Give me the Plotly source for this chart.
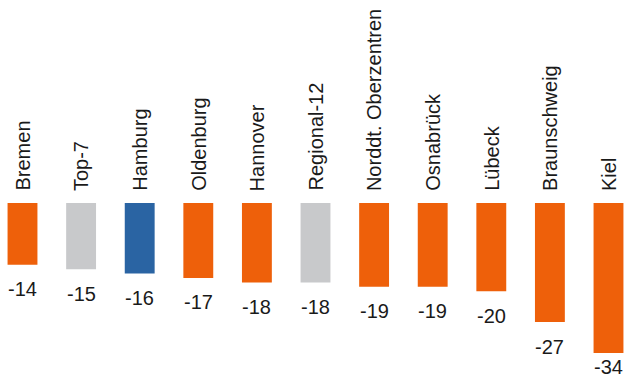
import plotly.graph_objects as go

categories = ["Bremen", "Top-7", "Hamburg", "Oldenburg", "Hannover", "Regional-12",
              "Norddt. Oberzentren", "Osnabrück", "Lübeck", "Braunschweig", "Kiel"]
values = [-14, -15, -16, -17, -18, -18, -19, -19, -20, -27, -34]
groups = ["city", "bench", "home", "city", "city", "bench", "city", "city", "city", "city", "city"]

color_map = {"city": "#EE600A", "bench": "#C8C9CB", "home": "#2A64A3"}
colors = [color_map[g] for g in groups]

W, H = 625, 378
px_per_unit = 4.41
zero_px = 203
ymax = zero_px / px_per_unit
ymin = -(H - zero_px) / px_per_unit

x = list(range(len(categories)))
fig = go.Figure(go.Bar(x=x, y=values, marker=dict(color=colors, line=dict(width=0)),
                       width=0.51, hoverinfo="skip"))

font = dict(family="Liberation Sans, Arial, sans-serif", size=20, color="#1a1a1a")
ann = []
for i, (c, v) in enumerate(zip(categories, values)):
    ann.append(dict(x=i, y=0, text=c, textangle=-90, showarrow=False, xanchor="center",
                    yanchor="bottom", yshift=10, font=font))
    yv = max(v - 24.5 / px_per_unit, ymin + 11 / px_per_unit)
    ann.append(dict(x=i, y=yv, text=str(v), showarrow=False, xanchor="center",
                    yanchor="middle", font=font))

fig.update_layout(
    width=W, height=H, margin=dict(l=0, r=0, t=0, b=0),
    paper_bgcolor="white", plot_bgcolor="white", showlegend=False,
    xaxis=dict(range=[-22.5 / 58.6, (W - 22.5) / 58.6], visible=False),
    yaxis=dict(range=[ymin, ymax], visible=False),
    annotations=ann,
)
fig.write_html("out.html")
